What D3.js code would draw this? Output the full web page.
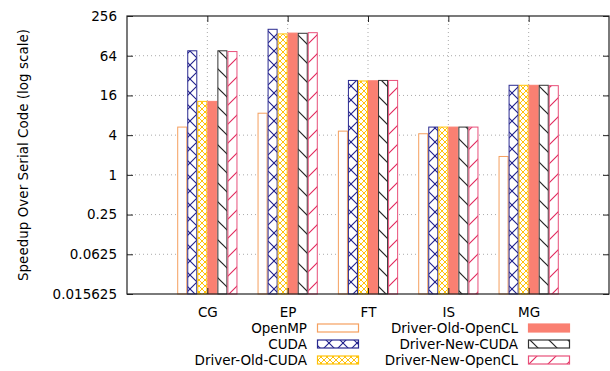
<!DOCTYPE html>
<html>
<head>
<meta charset="utf-8">
<script src="https://cdn.jsdelivr.net/npm/d3@7"></script>
<style>
    body { margin: 0; background: #fff; }
    text { font-family: "DejaVu Sans", sans-serif; font-size: 13.5px; fill: #000; }
</style>
</head>
<body>
<script>
// Benchmarks along the x axis
var categories = ["CG", "EP", "FT", "IS", "MG"];

// One array per series (speedup, log scale)
var seriesNames = ["OpenMP", "CUDA", "Driver-Old-CUDA", "Driver-Old-OpenCL",
                   "Driver-New-CUDA", "Driver-New-OpenCL"];
var openmp        = [5.3, 8.6, 4.6, 4.2, 1.9];
var cuda          = [76, 161, 27, 5.3, 22.8];
var driverOldCuda = [13, 137, 26.5, 5.3, 22.8];
var driverOldOcl  = [13, 141, 26.7, 5.3, 22.8];
var driverNewCuda = [76, 140, 27, 5.3, 22.8];
var driverNewOcl  = [74, 143, 27, 5.3, 22.5];
var seriesValues = [openmp, cuda, driverOldCuda, driverOldOcl,
                    driverNewCuda, driverNewOcl];

// y tick values and their printed labels
var yTicks = [0.015625, 0.0625, 0.25, 1, 4, 16, 64, 256];
var yTickLabels = ["0.015625", "0.0625", "0.25", "1", "4", "16", "64", "256"];

var W = 610, H = 371;
var margin = {top: 16, right: 1, bottom: 77, left: 127};
var width = W - margin.left - margin.right,
    height = H - margin.top - margin.bottom;

var svg = d3.select("body").append("svg")
    .attr("width", W)
    .attr("height", H);

// Patterns for the hatched bars
var defs = svg.append("defs");

function makePattern(id, size, color, paths, sw) {
    var p = defs.append("pattern")
        .attr("id", id)
        .attr("patternUnits", "userSpaceOnUse")
        .attr("width", size)
        .attr("height", size);
    p.append("rect").attr("width", size).attr("height", size)
        .attr("fill", "#fff");
    paths.forEach(function(d) {
        p.append("path").attr("d", d)
            .attr("stroke", color)
            .attr("stroke-width", sw)
            .attr("fill", "none");
    });
}

makePattern("p-cuda", 14, "#1c1c8a",
    ["M0,0L14,14", "M14,0L0,14"], 1.1);
makePattern("p-oldcuda", 6, "#ffc20a",
    ["M0,0L6,6", "M6,0L0,6"], 1);
makePattern("p-newcuda", 19, "#222",
    ["M0,0L19,19", "M-2,17L2,21", "M17,-2L21,2"], 1.2);
makePattern("p-newocl", 19, "#e0245a",
    ["M0,19L19,0", "M-2,2L2,-2", "M17,21L21,17"], 1.1);

var styles = [
    {fill: "#fff",              stroke: "#f5a05f"},
    {fill: "url(#p-cuda)",      stroke: "#2a2a90"},
    {fill: "url(#p-oldcuda)",   stroke: "#ffc20a"},
    {fill: "#fa8072",           stroke: "#fa8072"},
    {fill: "url(#p-newcuda)",   stroke: "#333"},
    {fill: "url(#p-newocl)",    stroke: "#e8507a"}
];

var g = svg.append("g")
    .attr("transform", "translate(" + margin.left + "," + margin.top + ")");

// x: one unit per benchmark, with an empty slot at each side
var xScale = d3.scaleLinear().domain([-1, categories.length]).range([0, width]);
var yScale = d3.scaleLog().base(2).domain([1 / 64, 256]).range([height, 0]);

var barW = xScale(0.125) - xScale(0);

// dotted grid lines
g.append("g").selectAll("line.gy")
    .data(yTicks.slice(1, -1))
    .enter().append("line")
    .attr("x1", 0).attr("x2", width)
    .attr("y1", function(d) { return yScale(d); })
    .attr("y2", function(d) { return yScale(d); })
    .attr("stroke", "#aaa")
    .attr("stroke-dasharray", "1,3");

g.append("g").selectAll("line.gx")
    .data(categories)
    .enter().append("line")
    .attr("x1", function(d, i) { return xScale(i); })
    .attr("x2", function(d, i) { return xScale(i); })
    .attr("y1", 0).attr("y2", height)
    .attr("stroke", "#aaa")
    .attr("stroke-dasharray", "1,3");

// bars
seriesValues.forEach(function(vals, s) {
    g.append("g").selectAll("rect")
        .data(vals)
        .enter().append("rect")
        .attr("x", function(d, i) { return xScale(i + (s - 3) * 0.125) + 0.5; })
        .attr("y", function(d) { return yScale(d); })
        .attr("width", barW - 1)
        .attr("height", function(d) { return height - yScale(d); })
        .attr("fill", styles[s].fill)
        .attr("stroke", styles[s].stroke)
        .attr("stroke-width", 1);
});

// axes with inward ticks
var yAxis = d3.axisLeft(yScale)
    .tickValues(yTicks)
    .tickFormat(function(d, i) { return yTickLabels[i]; })
    .tickSizeInner(-6).tickSizeOuter(0).tickPadding(10);

var yAxisR = d3.axisRight(yScale)
    .tickValues(yTicks).tickFormat("")
    .tickSizeInner(-6).tickSizeOuter(0);

var xAxis = d3.axisBottom(xScale)
    .tickValues(d3.range(categories.length))
    .tickFormat(function(d) { return categories[d]; })
    .tickSizeInner(-6).tickSizeOuter(0).tickPadding(13);

var xAxisT = d3.axisTop(xScale)
    .tickValues(d3.range(categories.length)).tickFormat("")
    .tickSizeInner(-6).tickSizeOuter(0);

g.append("g").call(yAxis);
g.append("g").attr("transform", "translate(" + width + ",0)").call(yAxisR);
g.append("g").attr("transform", "translate(0," + height + ")").call(xAxis);
g.append("g").call(xAxisT);

g.selectAll(".domain").remove();
g.selectAll(".tick line").attr("stroke", "#222");
g.selectAll(".tick text")
    .style("font-family", "'DejaVu Sans', sans-serif")
    .style("font-size", "13.5px")
    .attr("fill", "#000");

// plot border
g.append("rect")
    .attr("width", width).attr("height", height)
    .attr("fill", "none")
    .attr("stroke", "#222")
    .attr("stroke-width", 1.2);

// y label
svg.append("text")
    .attr("transform", "translate(23," + (margin.top + height / 2) + ") rotate(-90)")
    .attr("dy", "0.35em")
    .style("text-anchor", "middle")
    .text("Speedup Over Serial Code (log scale)");

// legend, two columns of three
var legend = svg.append("g");
seriesNames.forEach(function(name, s) {
    var col = Math.floor(s / 3), row = s % 3;
    var tx = col === 0 ? 307 : 518;
    var cy = 328 + row * 16;
    legend.append("text")
        .attr("x", tx).attr("y", cy)
        .attr("dy", "0.35em")
        .style("text-anchor", "end")
        .text(name);
    legend.append("rect")
        .attr("x", tx + 10.5).attr("y", cy - 4)
        .attr("width", 41).attr("height", 8)
        .attr("fill", styles[s].fill)
        .attr("stroke", styles[s].stroke)
        .attr("stroke-width", 1.2);
});
</script>
</body>
</html>
